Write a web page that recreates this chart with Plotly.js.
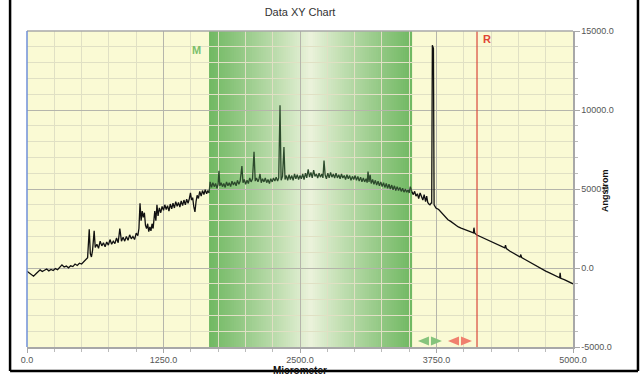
<!DOCTYPE html>
<html><head><meta charset="utf-8">
<script src="https://cdn.plot.ly/plotly-3.0.1.min.js"></script>
<style>html,body{margin:0;padding:0;background:#fff}#chart{width:644px;height:376px}</style>
</head><body><div id="chart"></div>
<script>
// ---- data ----
const xLeft = [0,20,40,60,80,100,120,140,160,180,200,220,240,260,280,300,320,340,360,380,400,420,440,460,480,500,520,540];
const yLeft = [-200,-300,-450,-520,-380,-250,-120,-220,-150,-60,-180,-90,-160,-40,-110,20,200,60,120,10,140,90,250,160,300,250,420,520];

const xRise = [555,570,580,590,600,615,625,640,655,670,685,700,715,730,745,760,775,790,805,820,835,850,865,880,895,910,925,940,955,970,985,1000,1015,1025,1035,1045,1055,1065,1075,1085,1095,1105,1115,1125,1135,1145,1155,1170,1180,1190,1200,1212,1225,1237,1250,1262,1275,1287,1300,1312,1325,1337,1350,1362,1375,1387,1400,1412,1425,1437,1450,1462,1475,1487,1497,1507,1517,1527,1538,1548,1558,1570,1582,1595,1607,1620,1632,1645,1657,1667];
const yRise = [650,2450,900,700,1100,2350,1300,1500,1250,1700,1400,1600,1350,1650,1450,1800,1500,1700,1550,1900,1600,2500,1700,1950,1700,2000,1750,2100,1850,2000,1800,2200,2050,2500,4100,3000,3600,3200,3500,2700,2500,2800,2300,2600,2350,2800,2500,3600,3000,4000,3300,3800,3500,3900,3650,4000,3700,3950,3600,4050,3750,4100,3800,4200,3900,4150,3850,4250,3950,4300,4000,4350,4100,4400,4750,4300,4450,3900,3550,4200,4600,4400,4850,4550,4900,4650,4950,4700,4900,4750];

const xBand = [1677,1690,1702,1715,1727,1740,1750,1758,1766,1778,1790,1802,1815,1827,1840,1852,1865,1877,1890,1902,1915,1927,1940,1952,1968,1978,1990,2002,2015,2027,2040,2052,2065,2079,2090,2102,2115,2125,2134,2145,2157,2170,2182,2195,2207,2220,2232,2245,2257,2270,2282,2295,2305,2317,2327,2340,2353,2363,2375,2387,2400,2412,2425,2437,2450,2462,2475,2487,2500,2512,2525,2537,2550,2562,2575,2587,2600,2612,2625,2637,2650,2662,2675,2687,2700,2710,2720,2730,2742,2755,2767,2780,2792,2805,2817,2830,2842,2855,2867,2880,2892,2905,2917,2930,2942,2955,2967,2980,2992,3005,3017,3030,3042,3055,3067,3080,3092,3105,3115,3123,3132,3142,3152,3165,3177,3190,3202,3215,3227,3240,3252,3265,3277,3290,3302,3315,3327,3340,3352,3365,3377,3390,3402,3415,3427,3440,3452,3465,3477,3490,3500,3510,3518,3526];
const yBand = [5450,5100,5400,5150,5350,5050,5300,6150,5200,5400,5150,5350,5100,5450,5200,5400,5150,5500,5250,5450,5200,5550,5300,5500,6450,5400,5600,5300,5550,5350,5700,5450,5650,7350,5500,5700,5450,5650,5950,5400,5650,5450,5700,5400,5600,5350,5650,5450,5700,5500,5750,5500,5700,10300,5550,5800,7650,5600,5850,5550,5900,5600,5850,5550,5950,5650,5900,5600,5850,5650,5950,5600,6000,5700,6250,5750,6050,5700,6200,5800,5950,5700,6000,5750,5950,5700,6800,5900,5650,6000,5700,6050,5750,5950,5700,6000,5700,5900,5650,5950,5700,5850,5600,5900,5650,5850,5550,5800,5600,5850,5550,5800,5500,5750,5450,5700,5450,5650,5400,6100,5450,5900,5350,5600,5300,5550,5250,5500,5200,5450,5150,5400,5100,5350,5050,5300,5000,5250,4950,5200,4900,5150,4900,5100,4850,5050,4800,5000,4800,4950,4750,5150,4850,4800];

const xTail = [3538,3550,3562,3575,3587,3600,3612,3625,3637,3650,3660,3670,3680,3690,3700,3706,3712,3722,3728,3745,3770,3800,3830,3855,3880,3900,3925,3950,3975,4000,4040,4075,4088,4093,4100,4120,4150,4180,4220,4260,4300,4340,4375,4382,4390,4420,4450,4480,4515,4522,4530,4565,4600,4640,4680,4715,4750,4790,4830,4855,4878,4882,4888,4920,4950,4975,5000];
const yTail = [4650,4850,4550,4700,4400,4750,4450,4300,4650,4200,4550,4150,4050,4000,4100,4100,14100,13900,4000,3800,3700,3480,3250,3050,2950,2850,2700,2600,2520,2450,2360,2280,2230,2550,2200,2090,1990,1900,1780,1650,1500,1380,1270,1450,1230,1080,950,830,700,850,660,520,380,220,60,-70,-200,-320,-450,-540,-620,-300,-650,-740,-830,-910,-1000];

const bandStart = 1667, bandEnd = 3526;
const markerR = 4121;
const xTickVals = [0,1250,2500,3750,5000];
const xTickText = ['0.0','1250.0','2500.0','3750.0','5000.0'];
const yTickVals = [-5000,0,5000,10000,15000];
const yTickText = ['-5000.0','0.0','5000.0','10000.0','15000.0'];

[[xLeft,yLeft],[xRise,yRise],[xBand,yBand],[xTail,yTail]].forEach((p,i)=>{
  if(p[0].length!==p[1].length) throw new Error('length mismatch in section '+i+': '+p[0].length+' vs '+p[1].length);
});

const xOut = xLeft.concat(xRise), yOut = yLeft.concat(yRise);
const xIn = [xRise[xRise.length-1]].concat(xBand, [xTail[0]]);
const yIn = [yRise[yRise.length-1]].concat(yBand, [yTail[0]]);

const traces = [
  {x:xOut,y:yOut,mode:'lines',line:{color:'#111',width:1.3},hoverinfo:'skip',showlegend:false},
  {x:xIn,y:yIn,mode:'lines',line:{color:'#2c4a2c',width:1.3},hoverinfo:'skip',showlegend:false},
  {x:[xBand[xBand.length-1]].concat(xTail),y:[yBand[yBand.length-1]].concat(yTail),mode:'lines',line:{color:'#111',width:1.3},hoverinfo:'skip',showlegend:false}
];

const shapes = [];
// gradient band (overlapping slices so no seams)
const N = 90, dark=[112,184,98], light=[236,243,220];
const center=(bandStart+bandEnd)/2, half=(bandEnd-bandStart)/2;
const step=(bandEnd-bandStart)/N;
for(let k=0;k<N;k++){
  const a = bandStart + step*k;
  const b = Math.min(bandEnd, a + step*2.5);
  const t = Math.abs(a+step/2-center)/half;
  const w = Math.pow(Math.min(1,t),0.9);
  const c = dark.map((d,i)=>Math.round(light[i]+(d-light[i])*w));
  shapes.push({type:'rect',xref:'x',yref:'paper',x0:a,x1:b,y0:0,y1:1,
    fillcolor:'rgb('+c.join(',')+')',line:{width:0},layer:'below'});
}
// red marker line
shapes.push({type:'line',xref:'x',yref:'paper',x0:markerR,x1:markerR,y0:0,y1:1,line:{color:'#d9483c',width:1.2}});
// top plot frame, left blue axis line
shapes.push({type:'line',xref:'paper',yref:'paper',x0:0,x1:1,y0:1,y1:1,line:{color:'#a8a8a8',width:1.5}});
shapes.push({type:'line',xref:'paper',yref:'paper',x0:0,x1:0,y0:0,y1:1,line:{color:'#6f8fd8',width:1.5}});
// black outer frame
const fl=-0.0310, fr=1.1190, fb=-0.0759, ft=1.2;
shapes.push({type:'line',xref:'paper',yref:'paper',x0:fl,x1:fl,y0:fb,y1:ft,line:{color:'#000',width:2.5}});
shapes.push({type:'line',xref:'paper',yref:'paper',x0:fr,x1:fr,y0:fb,y1:ft,line:{color:'#000',width:2.5}});
shapes.push({type:'line',xref:'paper',yref:'paper',x0:fl,x1:fr,y0:fb,y1:fb,line:{color:'#000',width:2.5}});
// double arrows near bottom
function dbl(xc, col){
  return {type:'path',xref:'x',yref:'y',xsizemode:'pixel',ysizemode:'pixel',xanchor:xc,yanchor:-4620,
    path:'M-12,0 L-1,4.5 L-1,-4.5 Z M12,0 L1,4.5 L1,-4.5 Z',fillcolor:col,line:{width:0}};
}
shapes.push(dbl(3690,'#86c47c'));
shapes.push(dbl(3965,'#f0806e'));

const ff = '"Liberation Sans", Arial, sans-serif';
const font = {family:ff, size:9, color:'#555'};

const layout = {
  width:644, height:376,
  margin:{l:27,r:71,t:31,b:29},
  paper_bgcolor:'#ffffff', plot_bgcolor:'#fafad4',
  font:font,
  title:{text:'Data XY Chart',x:0.5,xref:'paper',y:0.968,yref:'container',yanchor:'middle',
    font:{family:ff,size:11,color:'#333'}},
  xaxis:{range:[0,5000],tickvals:xTickVals,ticktext:xTickText,showgrid:true,gridcolor:'#b5b5ab',gridwidth:1,
    zeroline:false,showline:true,linecolor:'#a8a8a8',linewidth:1.5,ticks:'outside',ticklen:4,tickcolor:'#a8a8a8',
    minor:{dtick:250,tick0:0,showgrid:true,gridcolor:'#e0e0c4',ticks:'outside',ticklen:3,tickcolor:'#bbb'},
    tickfont:font,fixedrange:true},
  yaxis:{range:[-5000,15000],side:'right',tickvals:yTickVals,ticktext:yTickText,showgrid:true,gridcolor:'#b5b5ab',gridwidth:1,
    zeroline:false,showline:true,linecolor:'#a8a8a8',linewidth:1.5,ticks:'outside',ticklen:5,tickcolor:'#a8a8a8',
    minor:{dtick:1000,tick0:0,showgrid:true,gridcolor:'#e0e0c4',ticks:'outside',ticklen:3,tickcolor:'#bbb'},
    tickfont:font,fixedrange:true},
  shapes:shapes,
  annotations:[
    {text:'<b>M</b>',x:1548,y:13800,xref:'x',yref:'y',showarrow:false,font:{family:ff,size:11,color:'#7cbf6c'}},
    {text:'<b>R</b>',x:4210,y:14470,xref:'x',yref:'y',showarrow:false,font:{family:ff,size:11,color:'#e04535'}},
    {text:'<b>Micrometer</b>',x:0.5,y:-0.0745,xref:'paper',yref:'paper',yanchor:'middle',showarrow:false,
      font:{family:ff,size:10,color:'#111'}},
    {text:'<b>Angstrom</b>',x:1.0714,y:0.497,xref:'paper',yref:'paper',textangle:-90,showarrow:false,
      font:{family:ff,size:9,color:'#111'}}
  ]
};
Plotly.newPlot('chart', traces, layout, {displayModeBar:false, staticPlot:true});
</script>
</body></html>
